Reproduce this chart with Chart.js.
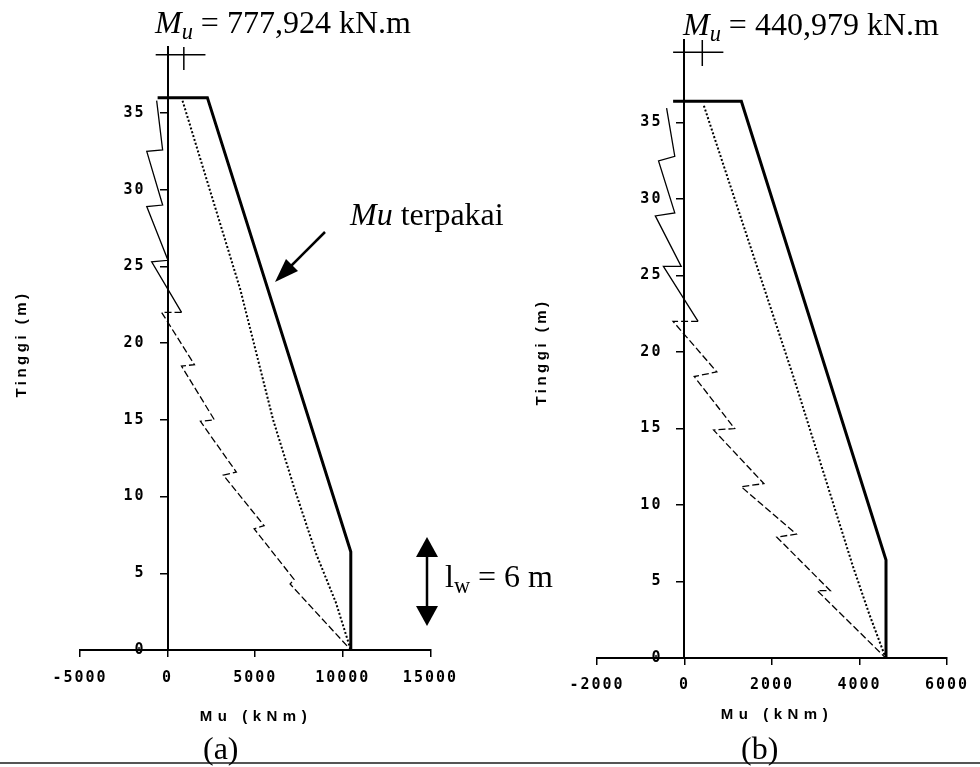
<!DOCTYPE html>
<html lang="id">
<head>
<meta charset="UTF-8">
<title>Momen dinding geser</title>
<script src="https://cdn.jsdelivr.net/npm/chart.js"></script>
<style>
  body { margin: 0; background: #fff; }
  .page { position: relative; width: 980px; height: 767px; overflow: hidden; color: #000;
          font-family: "Liberation Serif", "Times New Roman", serif; }
  canvas { position: absolute; top: 0; }
  #chartA { left: 0; }
  #chartB { left: 490px; }
  .txt { position: absolute; white-space: nowrap; line-height: 1; }
  .sub { font-size: 0.7em; position: relative; top: 0.28em; }
  .axt { position: absolute; white-space: nowrap; line-height: 1; font-family: "Liberation Sans", Arial, sans-serif;
         font-weight: bold; font-size: 15px; letter-spacing: 5.5px; transform: translate(-50%, -50%); }
  .rot { transform: translate(-50%, -50%) rotate(-90deg); letter-spacing: 3.5px; }
  .rule { position: absolute; left: 0; top: 762px; width: 980px; border-top: 2px solid #555; }
</style>
</head>
<body>
<div class="page">
  <div class="rule"></div>
  <canvas id="chartA" width="470" height="767"></canvas>
  <canvas id="chartB" width="490" height="767"></canvas>

  <svg width="980" height="767" style="position:absolute;left:0;top:0">
    <line x1="325" y1="232" x2="288" y2="269" stroke="#000" stroke-width="2.5"/>
    <polygon points="275,282 298,271 286,259" fill="#000"/>
    <line x1="427" y1="552" x2="427" y2="610" stroke="#000" stroke-width="2.5"/>
    <polygon points="427,537 416,557 438,557" fill="#000"/>
    <polygon points="427,626 416,606 438,606" fill="#000"/>
  </svg>

  <div class="txt" style="left:155px;top:6px;font-size:32px"><i>M<span class="sub">u</span></i> = 777,924 kN.m</div>
  <div class="txt" style="left:683px;top:8px;font-size:32px"><i>M<span class="sub">u</span></i> = 440,979 kN.m</div>
  <div class="txt" style="left:350px;top:198px;font-size:32px"><i>Mu</i> terpakai</div>
  <div class="txt" style="left:445px;top:560px;font-size:32px">l<span class="sub">w</span> = 6 m</div>
  <div class="txt" style="left:203px;top:732px;font-size:32px">(a)</div>
  <div class="txt" style="left:741px;top:732px;font-size:32px">(b)</div>

  <div class="axt" style="left:256px;top:715px">Mu (kNm)</div>
  <div class="axt" style="left:777px;top:713px">Mu (kNm)</div>
  <div class="axt rot" style="left:20px;top:344px">Tinggi (m)</div>
  <div class="axt rot" style="left:540px;top:352px">Tinggi (m)</div>
</div>

<script>
// ---- (a) ----
const aTicksX = [-5000, 0, 5000, 10000, 15000];
const aTicksY = [0, 5, 10, 15, 20, 25, 30, 35];
const aUsedM = [-570, 2270, 10455, 10455];
const aUsedH = [36.0, 36.0, 6.4, 0];
const aLinearM = [852, 4148, 6023, 7216, 8466, 9602, 10455];
const aLinearH = [35.8, 23.5, 15.0, 10.6, 6.3, 3.1, 0];
const aActualM = [-625, -284, -1190, -284, -1190, 20, -910, 795, -340, 1530, 795, 2670, 1875, 3920, 3180, 5510, 4940, 7220, 6990, 10455];
const aActualH = [35.8, 32.6, 32.5, 29.0, 28.9, 25.4, 25.3, 22.0, 22.0, 18.6, 18.5, 15.0, 14.9, 11.6, 11.4, 8.1, 7.9, 4.6, 4.3, 0];
const aMarkM = [-680, 2160];
const aMarkH = [38.8, 38.8];
const aTickM = [926, 926];
const aTickH = [37.8, 39.3];

// ---- (b) ----
const bTicksX = [-2000, 0, 2000, 4000, 6000];
const bTicksY = [0, 5, 10, 15, 20, 25, 30, 35];
const bUsedM = [-260, 1300, 4607, 4607];
const bUsedH = [36.4, 36.4, 6.4, 0];
const bLinearM = [444, 2500, 3850, 4220, 4600];
const bLinearH = [36.1, 18.3, 6.0, 2.9, 0];
const bActualM = [-409, -222, -593, -222, -667, -75, -482, 311, -260, 740, 222, 1147, 667, 1815, 1296, 2556, 2111, 3333, 3036, 4600];
const bActualH = [35.95, 32.8, 32.5, 29.1, 28.9, 25.6, 25.6, 22.0, 22.0, 18.7, 18.4, 15.0, 14.9, 11.4, 11.2, 8.1, 7.9, 4.4, 4.4, 0];
const bMarkM = [-260, 889];
const bMarkH = [39.6, 39.6];
const bTickM = [407, 407];
const bTickH = [38.7, 40.4];

function pts(xs, ys) {
    return xs.map((x, i) => ({ x: x, y: ys[i] }));
}

function lineSet(xs, ys, width, dash) {
    return {
        data: pts(xs, ys),
        borderColor: '#000',
        borderWidth: width,
        borderDash: dash || [],
        pointRadius: 0,
        fill: false,
        tension: 0
    };
}

// jagged line is solid in the upper part, dashed below ~22 m
function actualSet(xs, ys) {
    const ds = lineSet(xs, ys, 1.3);
    ds.segment = { borderDash: ctx => ctx.p0.parsed.y <= 22.05 ? [7, 3] : [] };
    return ds;
}

const wideText = {
    id: 'wideText',
    beforeLayout(chart) { chart.ctx.letterSpacing = '2px'; },
    beforeDraw(chart) { chart.ctx.letterSpacing = '2px'; }
};

const tickFont = { family: "'DejaVu Sans Mono', monospace", size: 15, weight: 'bold' };

function axisGrid() {
    return { display: true, drawOnChartArea: false, drawTicks: true, tickLength: 7, color: '#000', lineWidth: 1.5 };
}

function makeChart(id, cfg) {
    new Chart(document.getElementById(id), {
        type: 'line',
        data: { datasets: cfg.datasets },
        plugins: [wideText],
        options: {
            responsive: false,
            animation: false,
            layout: { padding: cfg.padding },
            plugins: { legend: { display: false }, tooltip: { enabled: false } },
            scales: {
                x: {
                    type: 'linear',
                    position: 'bottom',
                    min: cfg.ticksX[0],
                    max: cfg.ticksX[cfg.ticksX.length - 1],
                    afterBuildTicks: s => { s.ticks = cfg.ticksX.map(v => ({ value: v })); },
                    afterFit: s => { s.height = 40; },
                    ticks: { font: tickFont, color: '#000', padding: cfg.xPad, maxRotation: 0, autoSkip: false,
                             callback: v => String(v) },
                    grid: axisGrid(),
                    border: { display: true, color: '#000', width: 2 }
                },
                y: {
                    type: 'linear',
                    position: { x: 0 },
                    min: 0,
                    max: cfg.yMax,
                    afterBuildTicks: s => { s.ticks = cfg.ticksY.map(v => ({ value: v })); },
                    // labels of an axis placed at x = 0 sit flush on the line, so pad them with spaces
                    ticks: { font: tickFont, color: '#000', callback: v => String(v) + '  ' },
                    grid: axisGrid(),
                    border: { display: true, color: '#000', width: 2 }
                }
            }
        }
    });
}

makeChart('chartA', {
    ticksX: aTicksX,
    ticksY: aTicksY,
    yMax: 39.3,
    xPad: 12,
    padding: { top: 47, left: 80, right: 38, bottom: 77 },
    datasets: [
        lineSet(aUsedM, aUsedH, 3),
        lineSet(aLinearM, aLinearH, 2, [2, 2]),
        actualSet(aActualM, aActualH),
        lineSet(aMarkM, aMarkH, 1.5),
        lineSet(aTickM, aTickH, 1.5)
    ]
});

makeChart('chartB', {
    ticksX: bTicksX,
    ticksY: bTicksY,
    yMax: 40.4,
    xPad: 11,
    padding: { top: 40, left: 107, right: 23, bottom: 69 },
    datasets: [
        lineSet(bUsedM, bUsedH, 3),
        lineSet(bLinearM, bLinearH, 2, [2, 2]),
        actualSet(bActualM, bActualH),
        lineSet(bMarkM, bMarkH, 1.5),
        lineSet(bTickM, bTickH, 1.5)
    ]
});
</script>
</body>
</html>
